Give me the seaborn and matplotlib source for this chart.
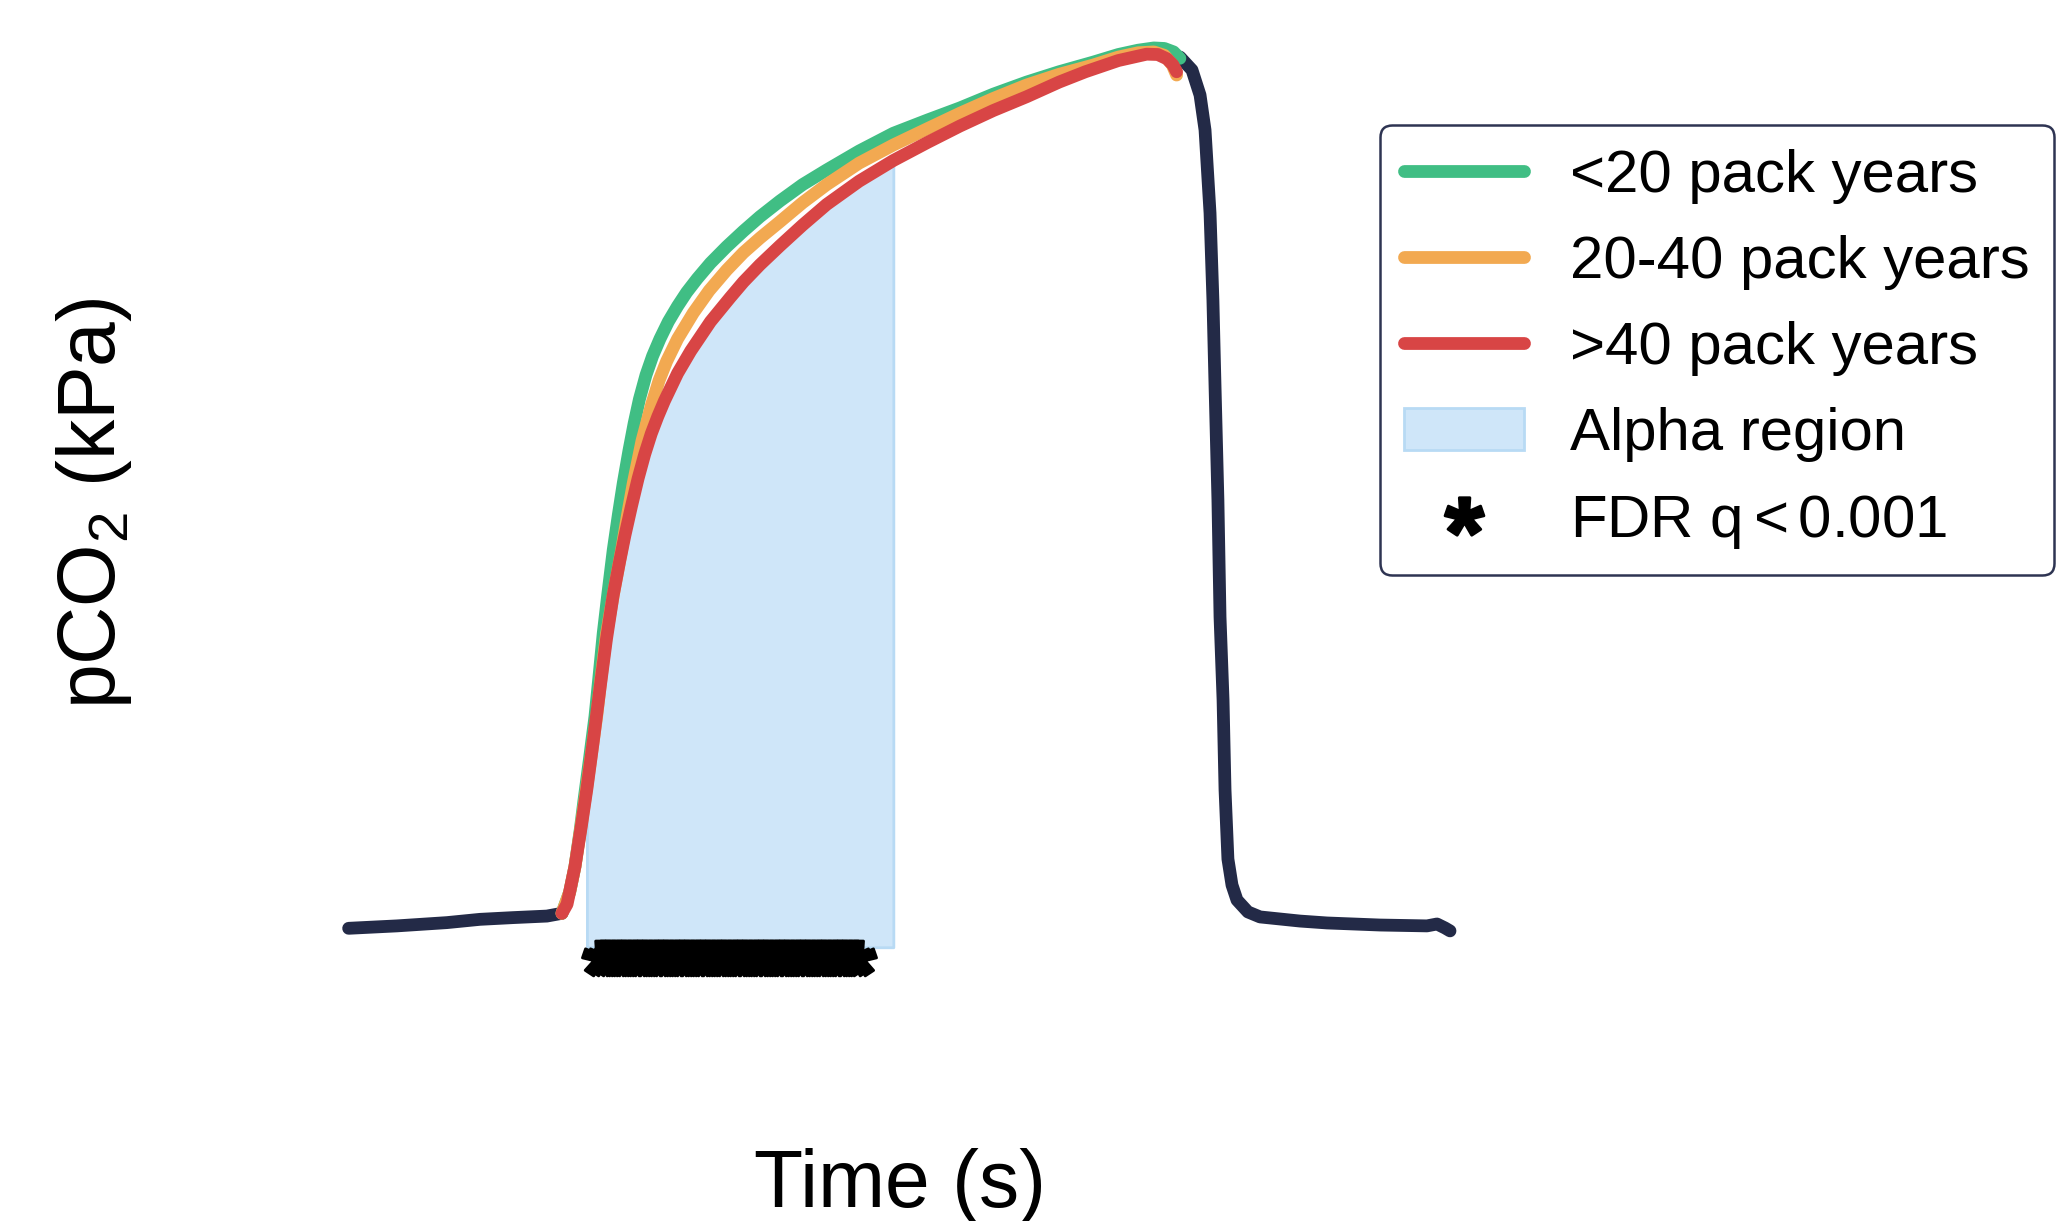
import numpy as np
import pandas as pd
import seaborn as sns
import matplotlib.pyplot as plt
from matplotlib.lines import Line2D
from matplotlib.patches import Patch
from matplotlib.path import Path
from matplotlib.textpath import TextPath
from matplotlib.font_manager import FontProperties

# --- capnogram readings (time in s, pCO2 in kPa) ---
# whole-cohort trace: inspiratory baseline and washout after end-tidal peak
pre_t = [0.0, 0.367, 0.747, 0.998, 1.249, 1.507, 1.621]
pre_co2 = [0.110, 0.124, 0.143, 0.162, 0.172, 0.181, 0.197]
post_t = [6.319, 6.410, 6.471, 6.509, 6.547, 6.569, 6.585, 6.607, 6.623, 6.646, 6.661, 6.683,
          6.714, 6.752, 6.835, 6.927, 7.231, 7.436, 7.839, 8.196, 8.272, 8.333, 8.371]
post_co2 = [5.165, 5.090, 4.945, 4.742, 4.260, 3.755, 3.256, 2.595, 1.916, 1.435, 0.913, 0.512,
            0.361, 0.274, 0.205, 0.176, 0.152, 0.141, 0.129, 0.124, 0.135, 0.112, 0.095]

# expiratory phase per smoking group
low_t = [1.621, 1.68, 1.72, 1.76, 1.789, 1.83, 1.872, 1.90, 1.935, 1.97, 2.011, 2.05, 2.087,
         2.13, 2.17, 2.21, 2.26, 2.31, 2.366, 2.43, 2.50, 2.569, 2.65, 2.75, 2.873, 3.0, 3.126,
         3.278, 3.45, 3.633, 3.88, 4.14, 4.40, 4.646, 4.90, 5.153, 5.40, 5.66, 5.85, 6.0, 6.12,
         6.2, 6.27, 6.318]
low_co2 = [0.197, 0.32, 0.468, 0.68, 0.855, 1.09, 1.338, 1.55, 1.822, 2.05, 2.305, 2.51, 2.692,
           2.88, 3.04, 3.18, 3.32, 3.43, 3.53, 3.63, 3.72, 3.80, 3.88, 3.97, 4.065, 4.155, 4.239,
           4.330, 4.425, 4.510, 4.62, 4.723, 4.80, 4.87, 4.95, 5.020, 5.08, 5.136, 5.18, 5.205,
           5.218, 5.215, 5.195, 5.158]
mid_t = [1.621, 1.68, 1.72, 1.76, 1.796, 1.84, 1.885, 1.92, 1.961, 2.02, 2.075, 2.12, 2.163,
         2.23, 2.303, 2.36, 2.417, 2.50, 2.619, 2.74, 2.873, 3.0, 3.126, 3.278, 3.45, 3.633,
         3.88, 4.14, 4.40, 4.646, 4.90, 5.153, 5.40, 5.66, 5.85, 6.0, 6.12, 6.2, 6.26, 6.293]
mid_co2 = [0.197, 0.32, 0.468, 0.67, 0.855, 1.09, 1.338, 1.57, 1.822, 2.08, 2.305, 2.51, 2.692,
           2.94, 3.15, 3.29, 3.40, 3.53, 3.68, 3.81, 3.929, 4.03, 4.115, 4.21, 4.32, 4.425,
           4.55, 4.655, 4.75, 4.839, 4.925, 5.003, 5.065, 5.119, 5.165, 5.19, 5.195, 5.175,
           5.12, 5.061]
high_t = [1.621, 1.66, 1.72, 1.77, 1.811, 1.86, 1.91, 1.96, 2.01, 2.06, 2.10, 2.15, 2.20, 2.25,
          2.30, 2.35, 2.40, 2.50, 2.60, 2.75, 2.90, 3.0, 3.126, 3.278, 3.45, 3.633, 3.88, 4.14,
          4.40, 4.646, 4.90, 5.153, 5.40, 5.6, 5.85, 6.065, 6.15, 6.22, 6.265, 6.293]
high_co2 = [0.197, 0.25, 0.468, 0.71, 0.92, 1.20, 1.50, 1.79, 2.04, 2.24, 2.39, 2.56, 2.72, 2.86,
            2.98, 3.08, 3.17, 3.33, 3.46, 3.63, 3.77, 3.86, 3.96, 4.07, 4.19, 4.31, 4.445, 4.565,
            4.67, 4.765, 4.855, 4.935, 5.02, 5.08, 5.145, 5.182, 5.18, 5.155, 5.12, 5.080]

groups = ["<20 pack years", "20-40 pack years", ">40 pack years"]
COLORS = ["#40BE84", "#F2A951", "#D84545"]
DARK = "#232A47"
ALPHA_FILL = "#CFE6F9"
ALPHA_EDGE = "#B8DAF4"

# alpha region and FDR-significant window
alpha_start, alpha_end = 1.811, 4.140
sig_start, sig_end, sig_step = 1.91, 3.87, 0.04
sig_level = -0.065

sns.set_theme(style="white")
plt.rcParams["font.family"] = ["Liberation Sans", "DejaVu Sans"]
plt.rcParams["mathtext.fontset"] = "custom"
plt.rcParams["mathtext.rm"] = "Liberation Sans"
plt.rcParams["text.color"] = "black"
plt.rcParams["axes.labelcolor"] = "black"

# bold asterisk glyph as a marker
fp = FontProperties(family="Liberation Sans", weight="bold")
tp = TextPath((0, 0), "*", size=1, prop=fp)
codes = tp.codes
verts = tp.vertices.copy()
real = codes != Path.CLOSEPOLY
ctr = (verts[real].min(0) + verts[real].max(0)) / 2
verts = verts - ctr
verts[~real] = 0
ASTERISK = Path(verts, codes)

fig = plt.figure(figsize=(10.315, 6.105), dpi=200)
ax = fig.add_axes([0.1454, 0.1810, 0.5817, 0.7944])

LW = 4.6
line_kw = dict(estimator=None, sort=False, lw=LW, solid_capstyle="round", ax=ax, legend=False)

# alpha region under the >40 group curve
hi = pd.DataFrame({"t": high_t, "co2": high_co2})
m = (hi["t"] >= alpha_start - 1e-6) & (hi["t"] <= alpha_end + 1e-6)
ax.fill_between(hi["t"][m], 0, hi["co2"][m], facecolor=ALPHA_FILL, edgecolor=ALPHA_EDGE, lw=1.0, zorder=1)

sns.lineplot(x=pre_t, y=pre_co2, color=DARK, zorder=2, **line_kw)
sns.lineplot(x=post_t, y=post_co2, color=DARK, zorder=2, **line_kw)

for (t, c), col in zip([(low_t, low_co2), (mid_t, mid_co2), (high_t, high_co2)], COLORS):
    sns.lineplot(x=t, y=c, color=col, zorder=3, **line_kw)

sig_t = np.arange(sig_start, sig_end + 1e-9, sig_step)
ax.plot(sig_t, np.full(len(sig_t), sig_level), ls="none", marker=ASTERISK,
        markersize=13, color="black", zorder=4)

ax.set_xlim(-0.37, 8.751)
ax.set_ylim(-0.306, 5.322)
ax.set_xticks([])
ax.set_yticks([])
sns.despine(ax=ax, left=True, bottom=True)

ax.set_xlabel("Time (s)", fontsize=29)
ax.xaxis.set_label_coords(0.5, -0.153)
ax.set_ylabel(r"pCO$_\mathregular{2}$ (kPa)", fontsize=29)
ax.yaxis.set_label_coords(-0.138, 0.512)

handles = [Line2D([], [], color=c, lw=LW, solid_capstyle="round") for c in COLORS]
handles.append(Patch(facecolor=ALPHA_FILL, edgecolor=ALPHA_EDGE, lw=1.0))
handles.append(Line2D([], [], ls="none", marker=ASTERISK, markersize=14, color="black"))
labels = groups + ["Alpha region", r"FDR q$\,$<$\,$0.001"]
leg = fig.legend(handles, labels, loc="upper left", bbox_to_anchor=(0.6689, 0.8975),
                 bbox_transform=fig.transFigure, borderaxespad=0, fontsize=21.6,
                 handlelength=2.0, handletextpad=0.77, labelspacing=0.515,
                 frameon=True, fancybox=True, framealpha=1)
leg.get_frame().set_edgecolor("#2E3452")
leg.get_frame().set_linewidth(0.9)

fig.savefig("out.png", dpi=200)
